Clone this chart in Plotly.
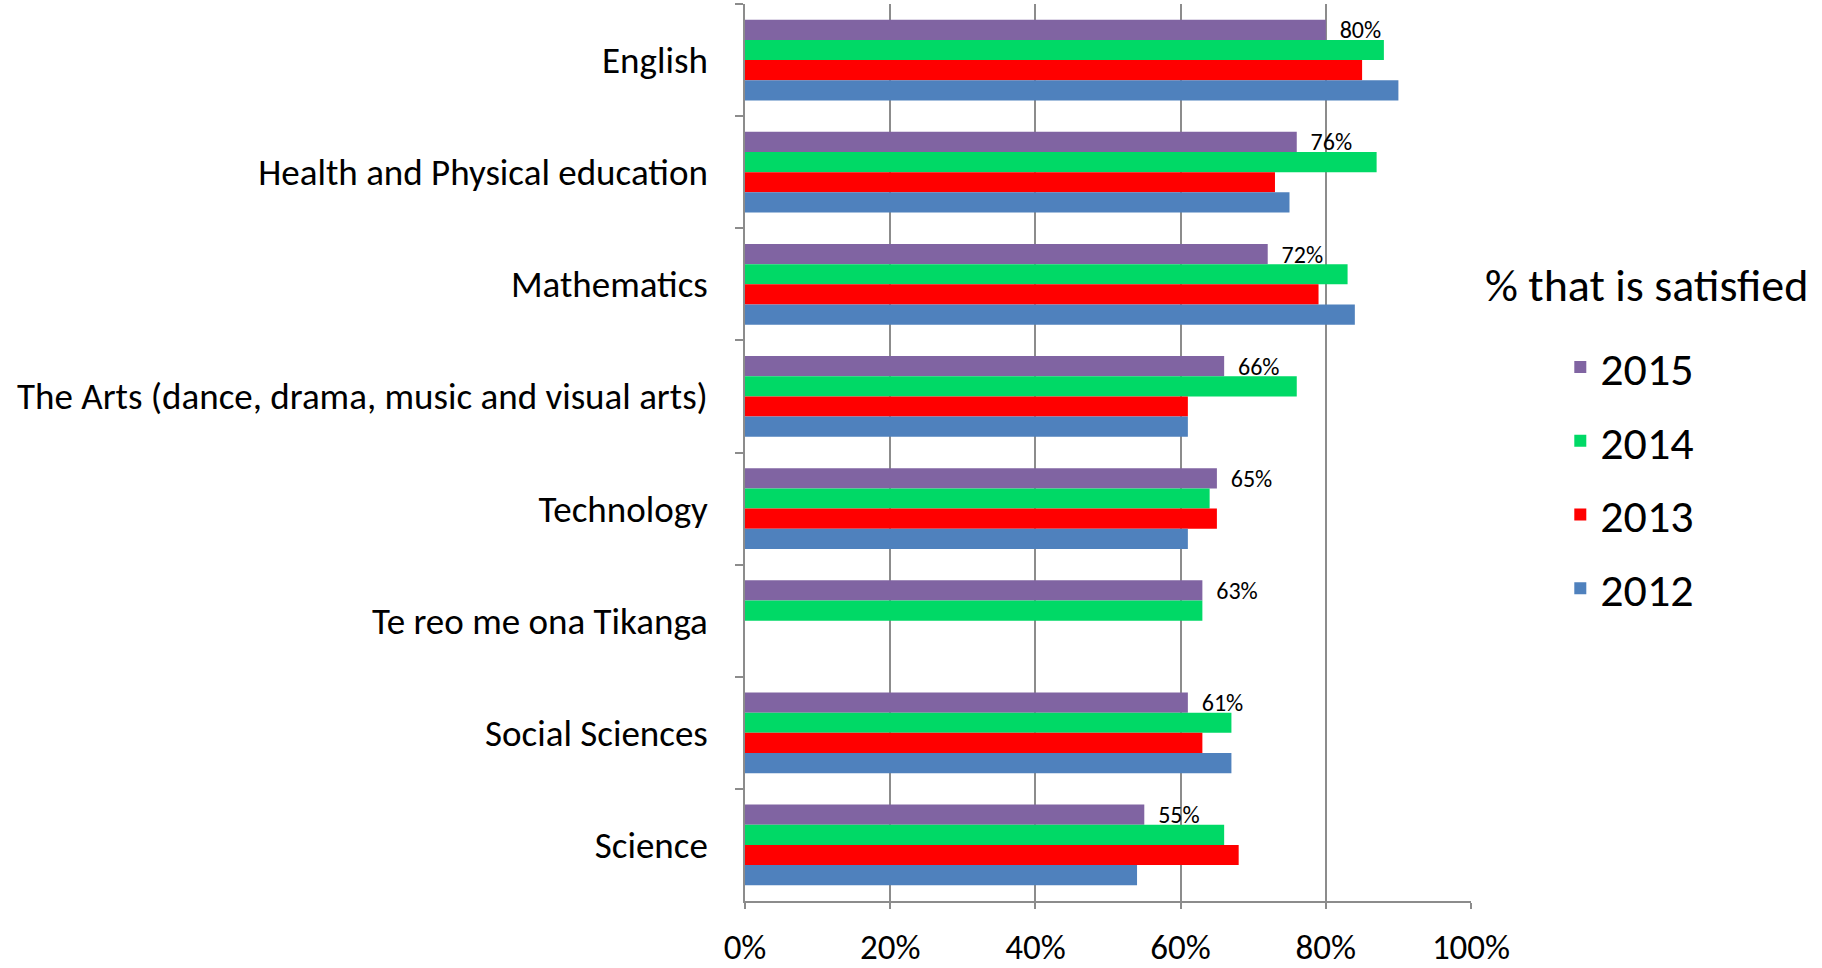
import plotly.graph_objects as go

categories = ["English", "Health and Physical education", "Mathematics",
              "The Arts (dance, drama, music and visual arts)", "Technology",
              "Te reo me ona Tikanga", "Social Sciences", "Science"]
years = ["2015", "2014", "2013", "2012"]
v2015 = [80, 76, 72, 66, 65, 63, 61, 55]
v2014 = [88, 87, 83, 76, 64, 63, 67, 66]
v2013 = [85, 73, 79, 61, 65, None, 63, 68]
v2012 = [90, 75, 84, 61, 61, None, 67, 54]
colors = ["#8064A2", "#00D966", "#FF0000", "#4F81BD"]
x_ticks = [0, 20, 40, 60, 80, 100]

FONT = "Calibri, Carlito, Lato, sans-serif"

fig = go.Figure()
for i, (yr, vals) in enumerate(zip(years, [v2015, v2014, v2013, v2012])):
    kw = {}
    if yr == "2015":
        kw = dict(text=[f"\u00a0\u00a0{v}%" for v in vals], textposition="outside",
                  textfont=dict(size=24, color="black", family=FONT),
                  constraintext="none", cliponaxis=False)
    fig.add_trace(go.Bar(
        x=vals, y=categories, name=yr, orientation="h",
        marker=dict(color=colors[i], line=dict(width=0)),
        legendgroup=yr, **kw))

fig.update_layout(
    width=1822, height=968,
    margin=dict(l=745, r=351, t=4, b=67, autoexpand=False),
    paper_bgcolor="white", plot_bgcolor="white",
    barmode="group", bargap=0.28, bargroupgap=0,
    font=dict(family=FONT, size=37, color="black"),
    showlegend=True,
    legend=dict(x=1.123, y=0.636, xanchor="left", yanchor="top",
                font=dict(size=46, family=FONT), tracegroupgap=11,
                bgcolor="rgba(0,0,0,0)"),
    annotations=[dict(text="% that is satisfied", xref="paper", yref="paper",
                      x=1.016, y=0.687, xanchor="left", yanchor="middle",
                      showarrow=False, font=dict(size=46, family=FONT))],
)
fig.update_xaxes(range=[0, 100], tickvals=x_ticks, ticktext=[f"{t}%" for t in x_ticks],
                 showgrid=True, gridcolor="#8C8C8C", gridwidth=1.5,
                 showline=True, linecolor="#8C8C8C", linewidth=1.5,
                 ticks="outside", ticklen=6, tickcolor="#8C8C8C", tickwidth=1.5,
                 ticklabelstandoff=8, automargin=False,
                 tickfont=dict(size=35), zeroline=False, fixedrange=True)
fig.update_yaxes(autorange="reversed", type="category",
                 showline=True, linecolor="#8C8C8C", linewidth=1.5,
                 ticks="outside", tickson="boundaries", ticklen=8,
                 tickcolor="#8C8C8C", tickwidth=1.5, ticklabelstandoff=28,
                 automargin=False,
                 tickfont=dict(size=37), showgrid=False, fixedrange=True)

fig.write_html("out.html", config={"displayModeBar": False},
               post_script="document.body.style.margin='0';")
